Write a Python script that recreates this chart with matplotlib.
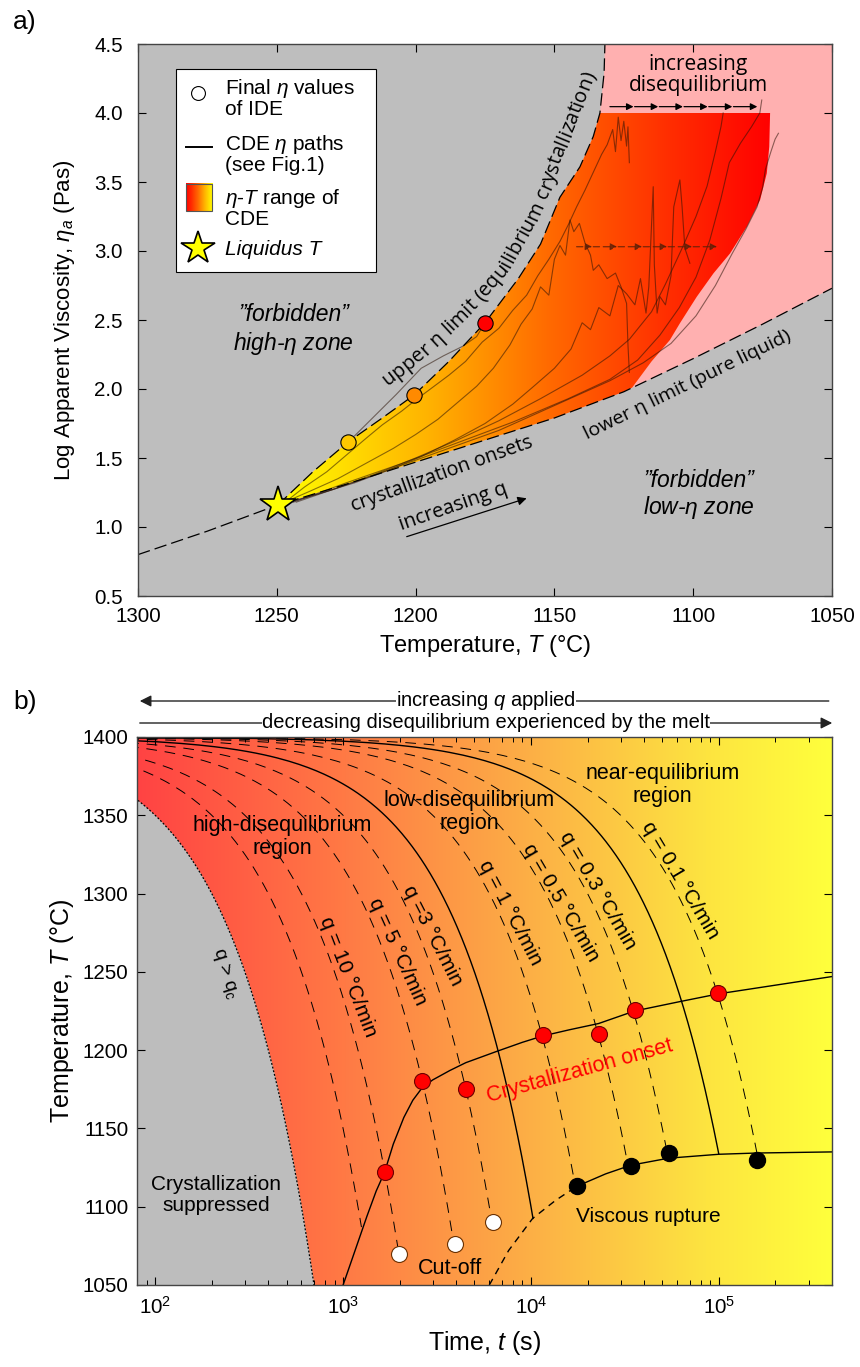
import numpy as np
import matplotlib
matplotlib.use("Agg")
import matplotlib.pyplot as plt
from matplotlib.colors import LinearSegmentedColormap
from matplotlib.patches import Polygon, Rectangle, FancyArrowPatch
from matplotlib.lines import Line2D
from matplotlib.font_manager import FontProperties
from matplotlib.transforms import IdentityTransform

plt.rcParams['font.family'] = ['Liberation Sans', 'DejaVu Sans']
plt.rcParams['mathtext.fontset'] = 'custom'
plt.rcParams['mathtext.rm'] = 'Liberation Sans'
plt.rcParams['mathtext.it'] = 'Liberation Sans:italic'
HUMANIST = ['Open Sans', 'Liberation Sans', 'DejaVu Sans']

# ---------------- panel a data (T in degC, log eta) ----------------
upper_T = [1249.6, 1237, 1224.2, 1212, 1200.5, 1188, 1175, 1163, 1155, 1148, 1140.8, 1136, 1133.6, 1132.1, 1131.8]
upper_eta = [1.16, 1.40, 1.618, 1.79, 1.957, 2.20, 2.48, 2.80, 3.05, 3.39, 3.61, 3.83, 4.00, 4.29, 4.50]

lower_T = [1300, 1275, 1249.6, 1225, 1200, 1175, 1150, 1125, 1100, 1075, 1050]
lower_eta = [0.80, 0.97, 1.16, 1.31, 1.47, 1.63, 1.79, 1.98, 2.22, 2.47, 2.73]

# right edge of the CDE eta-T range
cde_right_T = [1072.3, 1072.6, 1073.5, 1075.9, 1080.7, 1086.7, 1092.7, 1098.7, 1104.8, 1108.4, 1115, 1122]
cde_right_eta = [4.0, 3.756, 3.563, 3.37, 3.176, 2.983, 2.838, 2.669, 2.476, 2.355, 2.20, 2.01]

ide_T = [1224.2, 1200.5, 1175]
ide_eta = [1.618, 1.957, 2.48]
ide_colors = ['#ffc800', '#ff8a00', '#ff0000']

liquidus_T, liquidus_eta = 1249.6, 1.16

# CDE viscosity paths
paths = [
    ([1222, 1215, 1207, 1198, 1190, 1183, 1178, 1175],
     [1.66, 1.80, 1.96, 2.15, 2.24, 2.31, 2.38, 2.48]),
    ([1247, 1240, 1232, 1225, 1218, 1212, 1205, 1200, 1194, 1188, 1182, 1176, 1170, 1165, 1160, 1156,
      1152, 1148, 1145, 1142, 1139, 1136, 1133, 1131, 1129, 1128, 1127, 1126, 1125, 1124, 1123.5, 1123],
     [1.18, 1.29, 1.40, 1.52, 1.64, 1.74, 1.84, 1.92, 2.01, 2.10, 2.20, 2.34, 2.44, 2.57, 2.68, 2.82,
      2.94, 3.07, 3.19, 3.32, 3.44, 3.57, 3.70, 3.77, 3.88, 3.72, 3.97, 3.80, 3.94, 3.76, 3.90, 3.64]),
    ([1246, 1238, 1228, 1218, 1208, 1200, 1192, 1185, 1178, 1172, 1166, 1162, 1158, 1155, 1152, 1150,
      1148, 1146, 1144.4, 1143, 1141, 1139, 1137, 1136, 1134, 1131, 1128, 1126, 1124, 1123.5, 1123],
     [1.19, 1.26, 1.35, 1.46, 1.57, 1.67, 1.78, 1.90, 2.02, 2.15, 2.32, 2.47, 2.58, 2.74, 2.68, 2.94,
      3.04, 2.97, 3.225, 3.14, 3.20, 3.06, 2.97, 2.86, 2.90, 2.80, 2.84, 2.74, 2.62, 2.32, 2.12]),
    ([1246, 1235, 1222, 1210, 1198, 1186, 1175, 1165, 1158, 1150, 1144, 1140, 1137, 1134, 1130, 1127,
      1124, 1121, 1119, 1117, 1116, 1114.4, 1114, 1113, 1112, 1110, 1108, 1107, 1104.8, 1104, 1103, 1101.2],
     [1.18, 1.24, 1.32, 1.41, 1.51, 1.63, 1.75, 1.89, 2.01, 2.15, 2.29, 2.48, 2.43, 2.59, 2.53, 2.75,
      2.69, 2.61, 2.80, 2.55, 2.74, 3.466, 2.90, 2.55, 2.67, 2.61, 2.82, 3.32, 3.515, 3.32, 3.02, 2.911]),
    ([1245, 1230, 1215, 1200, 1185, 1170, 1155, 1140, 1130, 1123, 1115, 1110, 1104, 1099, 1095, 1092, 1090, 1089.2],
     [1.18, 1.27, 1.38, 1.50, 1.63, 1.77, 1.93, 2.10, 2.24, 2.36, 2.56, 2.76, 3.02, 3.25, 3.47, 3.72, 3.90, 4.00]),
    ([1244, 1225, 1205, 1185, 1165, 1145, 1130, 1120, 1112, 1105, 1099, 1094, 1090, 1087, 1083, 1079, 1076, 1075.3],
     [1.18, 1.32, 1.46, 1.61, 1.76, 1.93, 2.07, 2.21, 2.39, 2.59, 2.81, 3.08, 3.38, 3.64, 3.78, 3.90, 4.00, 4.094]),
    ([1243, 1220, 1195, 1170, 1150, 1130, 1118, 1108, 1099, 1092, 1086, 1081, 1077, 1075, 1074, 1072, 1070.5, 1069.3],
     [1.18, 1.34, 1.52, 1.70, 1.88, 2.06, 2.19, 2.33, 2.53, 2.75, 2.98, 3.16, 3.32, 3.46, 3.59, 3.72, 3.81, 3.853]),
]

# ---------------- panel b data ----------------
q_dashed = [15, 10, 5, 3, 1, 0.5, 0.3, 0.1]          # degC/min
q_dashed_end = [1087, 1069.8, 1076, 1090, 1113, 1126, 1134, 1130]
q_solid = [1.8, 0.16]
q_solid_end = [1092.5, 1134]
q_crit = 30
T_start = 1400

onset_t = [1000, 1150, 1340, 1500, 1662, 1850, 2105, 2350, 2636, 3000, 3700, 4500, 6500, 9000,
           11500, 16000, 22900, 35600, 62000, 100000, 400000]
onset_T = [1050, 1071, 1094, 1110, 1122, 1140, 1157, 1168, 1176, 1181, 1187, 1192, 1199, 1205,
           1209, 1213, 1217, 1225, 1231, 1236, 1247]

rupture_dash_t = [6000, 7600, 10200, 13500, 17500]
rupture_dash_T = [1050, 1072, 1092.5, 1104, 1113]
rupture_t = [17500, 25000, 34000, 54000, 100000, 160000, 400000]
rupture_T = [1113, 1121, 1126.5, 1131, 1133.5, 1134.3, 1135]

red_t = [1662, 2636, 4510, 11520, 22900, 35600, 98900]
red_T = [1122, 1180, 1175.5, 1209.6, 1210.6, 1225.5, 1236.2]
white_t = [1990, 3956, 6270]
white_T = [1069.8, 1076, 1090]
black_t = [17500, 34000, 54000, 160000]
black_T = [1113, 1126, 1134, 1130]

q_labels = ['q = 10 °C/min', 'q = 5 °C/min', 'q =3 °C/min', 'q = 1 °C/min',
            'q = 0.5 °C/min', 'q = 0.3 °C/min', 'q = 0.1 °C/min']
q_label_t = [1067, 1938, 2983, 7800, 14430, 22640, 62200]
q_label_T = [1247, 1263, 1273, 1288, 1294, 1302, 1308.5]
q_label_rot = [-68.7, -65.6, -63, -62.4, -59.7, -59.7, -59.2]

fig = plt.figure(figsize=(8.6, 13.67), dpi=100)
ax = fig.add_axes([138 / 860, 1 - 596 / 1367, 694 / 860, 552 / 1367])
bx = fig.add_axes([137 / 860, 1 - 1285 / 1367, 695 / 860, 548 / 1367])


def text_along(axis, pts, s, size, family):
    """Lay a string out character by character along a polyline given in data coords."""
    r = fig.canvas.get_renderer()
    fp = FontProperties(family=family, size=size)
    w = lambda txt: r.get_text_width_height_descent(txt, fp, ismath=False)[0]
    bar = w('|')
    adv = [0.0] + [w(s[:i] + '|') - bar for i in range(1, len(s) + 1)]
    disp = axis.transData.transform(pts)
    seg = np.diff(disp, axis=0)
    seglen = np.hypot(seg[:, 0], seg[:, 1])
    cum = np.concatenate([[0], np.cumsum(seglen)])
    start = (cum[-1] - adv[-1]) / 2
    for i, ch in enumerate(s):
        if ch == ' ':
            continue
        d = start + (adv[i] + adv[i + 1]) / 2
        k = int(np.clip(np.searchsorted(cum, d) - 1, 0, len(seg) - 1))
        f = (d - cum[k]) / seglen[k]
        x, y = disp[k] + f * seg[k]
        ang = np.degrees(np.arctan2(seg[k, 1], seg[k, 0]))
        fig.text(x, y, ch, transform=IdentityTransform(), rotation=ang, ha='center', va='center',
                 rotation_mode='anchor', fontproperties=fp, zorder=8)


# ================= panel a =================
ax.set_facecolor('#bebebe')
pink_pts = list(zip(upper_T, upper_eta)) + [(1050, 4.5), (1050, 2.73)] + \
    [(t, e) for t, e in zip(lower_T[::-1], lower_eta[::-1]) if 1050 < t <= 1249.6]
ax.add_patch(Polygon(pink_pts, closed=True, fc='#ffb0b0', ec='none', zorder=1))

cde_pts = [(t, e) for t, e in zip(upper_T, upper_eta) if e <= 4.0] + \
    list(zip(cde_right_T, cde_right_eta)) + \
    [(t, e) for t, e in zip(lower_T[::-1], lower_eta[::-1]) if 1125 <= t <= 1249.6]
cde_poly = Polygon(cde_pts, closed=True, fc='none', ec='none')
ax.add_patch(cde_poly)
grad_a = LinearSegmentedColormap.from_list(
    'cde', [(0, '#ffff00'), (0.3, '#ffb400'), (0.55, '#ff6a00'), (0.8, '#ff2c00'), (1, '#ff0000')])
img = ax.imshow(np.linspace(0, 1, 256)[None, :], cmap=grad_a, aspect='auto',
                extent=(1250, 1072, 1.0, 4.1), zorder=2, interpolation='bilinear')
img.set_clip_path(cde_poly)

for pt, pe in paths:
    ax.plot(pt, pe, color='#2a1206', lw=0.8, alpha=0.55, zorder=3)

ax.plot(upper_T, upper_eta, color='k', lw=0.9, dashes=(10, 4), zorder=4)
ax.plot(lower_T, lower_eta, color='k', lw=0.9, dashes=(10, 4), zorder=4)

for t, e, c in zip(ide_T, ide_eta, ide_colors):
    ax.plot(t, e, 'o', ms=11, mfc=c, mec='k', mew=0.8, zorder=6)
ax.plot(liquidus_T, liquidus_eta, '*', ms=27, mfc='#ffff00', mec='k', mew=1.2, zorder=7)

# arrows "increasing disequilibrium"
steps = [1130, 1121.1, 1112.2, 1103.3, 1094.4, 1085.5, 1076.5]
for a, b in zip(steps[:-1], steps[1:]):
    ax.annotate('', xy=(b + 0.4, 4.046), xytext=(a, 4.046),
                arrowprops=dict(arrowstyle='-|>', color='k', lw=0.9, mutation_scale=10,
                                shrinkA=0, shrinkB=0), zorder=6)
steps2 = [1142, 1136, 1127, 1118, 1109, 1100, 1091]
for a, b in zip(steps2[:-1], steps2[1:]):
    ax.annotate('', xy=(b + 0.4, 3.031), xytext=(a, 3.031),
                arrowprops=dict(arrowstyle='-|>', color='#5a2008', lw=0.9, ls=(0, (5, 3)),
                                mutation_scale=10, shrinkA=0, shrinkB=0, alpha=0.8), zorder=5)
ax.annotate('', xy=(1160, 1.208), xytext=(1203.2, 0.93),
            arrowprops=dict(arrowstyle='-|>', color='k', lw=0.9, mutation_scale=13,
                            shrinkA=0, shrinkB=0), zorder=6)

ax.text(1098.2, 4.275, 'increasing\ndisequilibrium', ha='center', va='center', fontsize=15,
        linespacing=1.0, zorder=6, family=HUMANIST)
ax.text(1244, 2.43, '\u201dforbidden\u201d\nhigh-$\\eta$ zone', ha='center', va='center',
        fontsize=16.5, style='italic', linespacing=1.2)
ax.text(1097.9, 1.235, '\u201dforbidden\u201d\nlow-$\\eta$ zone', ha='center', va='center',
        fontsize=16.5, style='italic', linespacing=1.1)
ax.text(1190.6, 1.385, 'crystallization onsets', ha='center', va='center', rotation=19.7,
        fontsize=14.2, rotation_mode='anchor', zorder=6, family=HUMANIST)
ax.text(1186.5, 1.145, 'increasing q', ha='center', va='center', rotation=19.2,
        fontsize=14.5, rotation_mode='anchor', zorder=6, family=HUMANIST)
ax.text(1102, 2.03, 'lower \u03b7 limit (pure liquid)', ha='center', va='center', rotation=26,
        fontsize=14, rotation_mode='anchor', zorder=6, family=HUMANIST)

# legend box
ax.add_patch(Rectangle((0.0548, 0.587), 0.288, 0.368, transform=ax.transAxes,
                       fc='white', ec='k', lw=0.8, zorder=10))
ax.plot(0.0869, 0.9107, 'o', ms=10, mfc='white', mec='k', mew=0.8, transform=ax.transAxes, zorder=11)
ax.add_line(Line2D([0.069, 0.106], [0.814, 0.814], color='k', lw=1.4, transform=ax.transAxes, zorder=11))
ax.imshow(np.linspace(1, 0, 64)[None, :], cmap=grad_a, aspect='auto',
          extent=(0.069, 0.107, 0.697, 0.746), transform=ax.transAxes, zorder=11)
ax.add_patch(Rectangle((0.069, 0.697), 0.038, 0.049, transform=ax.transAxes,
                       fc='none', ec='#555555', lw=0.8, zorder=12))
ax.plot(0.0865, 0.630, '*', ms=25, mfc='#ffff00', mec='k', mew=1.2, transform=ax.transAxes, zorder=11)
leg_kw = dict(transform=ax.transAxes, fontsize=15, va='center', ha='left', linespacing=1.0, zorder=12)
ax.text(0.1254, 0.9014, 'Final $\\eta$ values\nof IDE', **leg_kw)
ax.text(0.1254, 0.800, 'CDE $\\eta$ paths\n(see Fig.1)', **leg_kw)
ax.text(0.1254, 0.703, '$\\eta$-$T$ range of\nCDE', **leg_kw)
ax.text(0.1254, 0.6286, 'Liquidus T', transform=ax.transAxes, fontsize=15, va='center', ha='left',
        style='italic', zorder=12)

ax.set_xlim(1300, 1050)
ax.set_ylim(0.5, 4.5)
ax.set_xticks([1300, 1250, 1200, 1150, 1100, 1050])
ax.set_yticks(np.arange(0.5, 4.51, 0.5))
ax.set_yticklabels([f'{v:.1f}' for v in np.arange(0.5, 4.51, 0.5)])
ax.tick_params(direction='in', top=True, right=True, length=6, width=0.8, labelsize=14.8)
ax.tick_params(axis='x', pad=8)
ax.tick_params(axis='y', pad=11)
ax.set_xlabel('Temperature, $T$ (°C)', fontsize=17, labelpad=5)
ax.set_ylabel('Log Apparent Viscosity, $\\eta_a$ (Pas)', fontsize=16, labelpad=12)
for s in ax.spines.values():
    s.set_color('#444444')
    s.set_linewidth(1.0)
    s.set_zorder(20)

# curved label along the upper limit
upper_label_T = [1211.0, 1197.7, 1187.6, 1177.5, 1167.4, 1157.7, 1152.3, 1148.0, 1142.6, 1137.2]
upper_label_eta = [2.051, 2.261, 2.449, 2.652, 2.899, 3.254, 3.493, 3.739, 4.000, 4.290]
text_along(ax, np.column_stack([upper_label_T, upper_label_eta]),
           'upper \u03b7 limit (equilibrium crystallization)', 14.5, HUMANIST)

# ================= panel b =================
grad_b = LinearSegmentedColormap.from_list(
    'bg', [(0, '#ff4343'), (0.3, '#ff7a45'), (0.57, '#fcb046'), (0.82, '#fde440'), (1, '#ffff3c')])
bx.imshow(np.linspace(0, 1, 256)[None, :], cmap=grad_b, aspect='auto', extent=(0, 1, 0, 1),
          transform=bx.transAxes, zorder=0, interpolation='bilinear')

Tg = np.linspace(T_start, 1050, 400)
tg = (T_start - Tg) * 60 / q_crit
tg[0] = 1
bx.fill_betweenx(Tg, 1, tg, color='#bdbdbd', zorder=1, lw=0)
bx.plot(tg, Tg, color='k', lw=0.9, ls=(0, (1.5, 1.5)), zorder=3)

for q, Te in zip(q_dashed, q_dashed_end):
    T = np.linspace(T_start, Te, 300)
    t = (T_start - T) * 60 / q
    t[0] = 1
    bx.plot(t, T, color='k', lw=0.7, dashes=(11, 8), zorder=3)
for q, Te in zip(q_solid, q_solid_end):
    T = np.linspace(T_start, Te, 300)
    t = (T_start - T) * 60 / q
    t[0] = 1
    bx.plot(t, T, color='k', lw=1.0, zorder=3)

bx.plot(onset_t, onset_T, color='k', lw=1.0, zorder=4)
bx.plot(rupture_dash_t, rupture_dash_T, color='k', lw=1.0, dashes=(5, 4), zorder=4)
bx.plot(rupture_t, rupture_T, color='k', lw=1.0, zorder=4)

bx.plot(red_t, red_T, 'o', ms=11.5, mfc='#ff0000', mec='#6a0000', mew=0.8, ls='none', zorder=6)
bx.plot(white_t, white_T, 'o', ms=11.5, mfc='white', mec='#6a3000', mew=0.8, ls='none', zorder=6)
bx.plot(black_t, black_T, 'o', ms=11.5, mfc='black', mec='black', ls='none', zorder=6)

for s, t, T, r in zip(q_labels, q_label_t, q_label_T, q_label_rot):
    bx.text(t, T, s, rotation=r, ha='center', va='center', fontsize=15,
            rotation_mode='anchor', zorder=5)
bx.text(235, 1249, 'q > q$_\\mathrm{c}$', rotation=-73, ha='center', va='center', fontsize=14,
        rotation_mode='anchor', zorder=5)
bx.text(475, 1336, 'high-disequilibrium\nregion', ha='center', va='center', fontsize=15.5, linespacing=1.1)
bx.text(4680, 1352, 'low-disequilibrium\nregion', ha='center', va='center', fontsize=15.5, linespacing=1.1)
bx.text(50000, 1369.5, 'near-equilibrium\nregion', ha='center', va='center', fontsize=15.5, linespacing=1.1)
bx.text(18070, 1186.8, 'Crystallization onset', color='#ff0000', rotation=15.5, ha='center',
        va='center', fontsize=15.5, rotation_mode='anchor', zorder=5)
bx.text(211, 1107.4, 'Crystallization\nsuppressed', ha='center', va='center', fontsize=15, linespacing=1.1)
bx.text(3727, 1060.6, 'Cut-off', ha='center', va='center', fontsize=15.5)
bx.text(42000, 1093.6, 'Viscous rupture', ha='center', va='center', fontsize=15)

bx.set_xscale('log')
bx.set_xlim(80, 4e5)
bx.set_ylim(1050, 1400)
bx.set_yticks(np.arange(1050, 1401, 50))
bx.tick_params(which='both', direction='in', top=True, right=True, labelsize=14.8)
bx.tick_params(which='major', length=6, width=0.8)
bx.tick_params(which='minor', length=3.5, width=0.7)
bx.tick_params(axis='x', which='both', pad=8)
bx.tick_params(axis='y', pad=6)
bx.set_xlabel('Time, $t$ (s)', fontsize=18, labelpad=8)
bx.set_ylabel('Temperature, $T$ (°C)', fontsize=18, labelpad=5)
for s in bx.spines.values():
    s.set_color('#444444')
    s.set_linewidth(1.0)
    s.set_zorder(20)

# header arrows for panel b
x0, x1 = 137 / 860, 835 / 860
y1, y2 = 1 - 701 / 1367, 1 - 723 / 1367
fig.add_artist(FancyArrowPatch((x1 - 0.004, y1), (x0, y1), transform=fig.transFigure,
                               arrowstyle='-|>', mutation_scale=17, lw=1.0, color='#222222'))
fig.add_artist(FancyArrowPatch((x0, y2), (x1, y2), transform=fig.transFigure,
                               arrowstyle='-|>', mutation_scale=17, lw=1.0, color='#222222'))
fig.text((x0 + x1) / 2, y1, 'increasing $q$ applied', ha='center', va='center', fontsize=14.5,
         bbox=dict(fc='white', ec='none', pad=0.2))
fig.text((x0 + x1) / 2, y2, 'decreasing disequilibrium experienced by the melt', ha='center',
         va='center', fontsize=14.5, bbox=dict(fc='white', ec='none', pad=0.2))

fig.text(13 / 860, 1 - 10 / 1367, 'a)', fontsize=19, va='top')
fig.text(13 / 860, 1 - 690 / 1367, 'b)', fontsize=19, va='top')

fig.savefig('out.png', dpi=100)
